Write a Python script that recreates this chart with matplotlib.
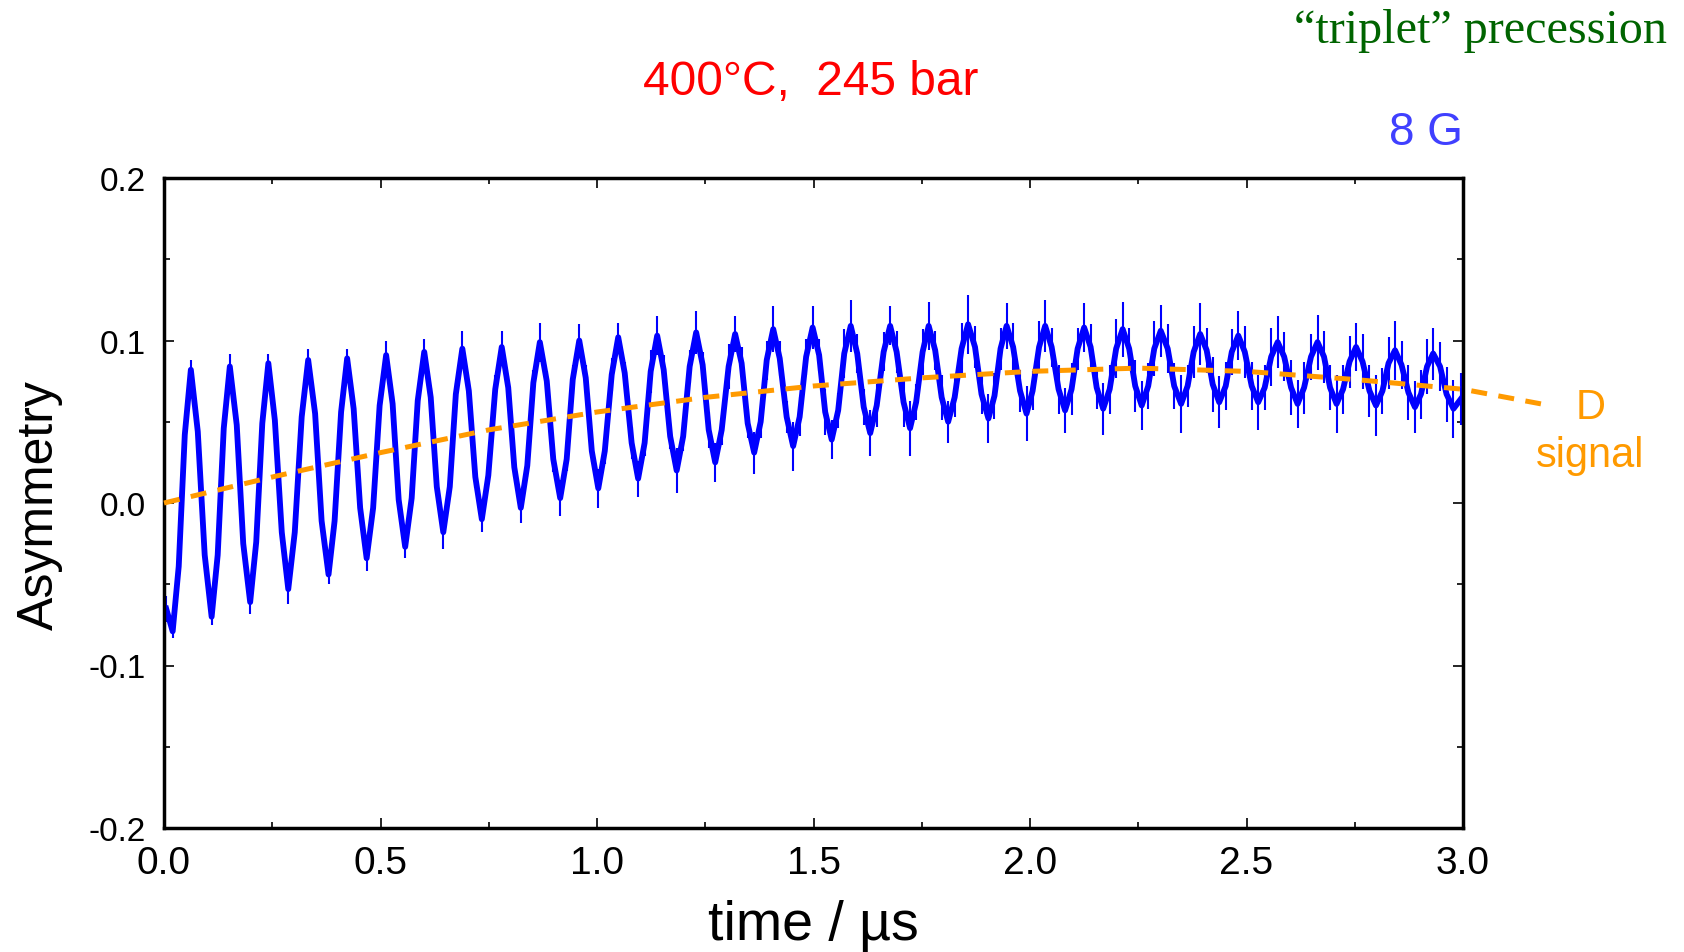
import matplotlib
matplotlib.use("Agg")
import matplotlib.pyplot as plt
from matplotlib.ticker import MultipleLocator

matplotlib.rcParams.update({
    'font.family': ['Liberation Sans', 'DejaVu Sans'],
    'axes.unicode_minus': False,
})

# muon asymmetry (peak / trough plus two points between)
time_us = [
    0.005, 0.020, 0.034, 0.048,
    0.062, 0.078, 0.094, 0.110, 0.124, 0.138,
    0.152, 0.168, 0.183, 0.199, 0.213, 0.227,
    0.241, 0.256, 0.272, 0.287, 0.302, 0.318,
    0.333, 0.349, 0.364, 0.380, 0.394, 0.409,
    0.423, 0.438, 0.453, 0.468, 0.483, 0.498,
    0.513, 0.528, 0.542, 0.557, 0.572, 0.586,
    0.601, 0.616, 0.630, 0.645, 0.660, 0.674,
    0.689, 0.704, 0.719, 0.734, 0.749, 0.765,
    0.780, 0.795, 0.809, 0.824, 0.839, 0.853,
    0.868, 0.884, 0.899, 0.915, 0.930, 0.944,
    0.959, 0.974, 0.988, 1.003, 1.018, 1.034,
    1.049, 1.064, 1.080, 1.095, 1.110, 1.124,
    1.139, 1.154, 1.169, 1.184, 1.199, 1.214,
    1.229, 1.244, 1.258, 1.273, 1.288, 1.304,
    1.319, 1.334, 1.348, 1.363, 1.378, 1.392,
    1.407, 1.422, 1.438, 1.453, 1.468, 1.483,
    1.498, 1.513, 1.527, 1.542, 1.557, 1.571,
    1.586, 1.601, 1.616, 1.631, 1.646, 1.662,
    1.677, 1.692, 1.708, 1.723, 1.737, 1.752,
    1.766, 1.781, 1.796, 1.811, 1.826, 1.842,
    1.857, 1.873, 1.888, 1.904, 1.918, 1.932,
    1.946, 1.961, 1.977, 1.992, 2.006, 2.021,
    2.035, 2.050, 2.066, 2.081, 2.096, 2.110,
    2.125, 2.140, 2.154, 2.169, 2.184, 2.199,
    2.214, 2.229, 2.243, 2.258, 2.273, 2.287,
    2.302, 2.318, 2.333, 2.349, 2.364, 2.378,
    2.393, 2.408, 2.422, 2.437, 2.452, 2.466,
    2.481, 2.496, 2.512, 2.527, 2.542, 2.557,
    2.572, 2.587, 2.603, 2.618, 2.633, 2.649,
    2.664, 2.679, 2.693, 2.708, 2.723, 2.738,
    2.753, 2.768, 2.784, 2.799, 2.814, 2.828,
    2.843, 2.858, 2.874, 2.889, 2.903, 2.917,
    2.931, 2.947, 2.962, 2.978, 2.995,
]
asym = [
    -0.065, -0.079, -0.039, 0.042,
    0.082, 0.044, -0.032, -0.070, -0.032, 0.046,
    0.084, 0.048, -0.025, -0.061, -0.024, 0.049,
    0.086, 0.051, -0.018, -0.053, -0.018, 0.053,
    0.088, 0.055, -0.011, -0.044, -0.011, 0.056,
    0.089, 0.058, -0.003, -0.034, -0.003, 0.060,
    0.091, 0.061, 0.002, -0.027, 0.003, 0.063,
    0.093, 0.065, 0.010, -0.018, 0.010, 0.067,
    0.095, 0.069, 0.016, -0.010, 0.017, 0.070,
    0.096, 0.071, 0.022, -0.003, 0.023, 0.074,
    0.099, 0.075, 0.027, 0.003, 0.027, 0.076,
    0.100, 0.077, 0.032, 0.009, 0.032, 0.079,
    0.102, 0.080, 0.037, 0.015, 0.037, 0.081,
    0.103, 0.082, 0.041, 0.020, 0.041, 0.084,
    0.105, 0.085, 0.045, 0.025, 0.045, 0.084,
    0.104, 0.086, 0.049, 0.031, 0.050, 0.088,
    0.107, 0.089, 0.053, 0.035, 0.053, 0.090,
    0.108, 0.091, 0.056, 0.039, 0.057, 0.092,
    0.109, 0.092, 0.059, 0.043, 0.060, 0.093,
    0.109, 0.093, 0.062, 0.046, 0.062, 0.093,
    0.109, 0.094, 0.065, 0.050, 0.065, 0.095,
    0.110, 0.096, 0.067, 0.052, 0.066, 0.095,
    0.109, 0.096, 0.069, 0.055, 0.069, 0.096,
    0.109, 0.096, 0.070, 0.057, 0.070, 0.095,
    0.108, 0.096, 0.071, 0.058, 0.070, 0.095,
    0.107, 0.095, 0.072, 0.060, 0.072, 0.095,
    0.106, 0.095, 0.072, 0.061, 0.072, 0.093,
    0.104, 0.094, 0.073, 0.062, 0.072, 0.093,
    0.103, 0.093, 0.072, 0.062, 0.071, 0.090,
    0.099, 0.090, 0.071, 0.061, 0.071, 0.090,
    0.099, 0.090, 0.071, 0.061, 0.070, 0.087,
    0.096, 0.087, 0.069, 0.060, 0.069, 0.086,
    0.094, 0.085, 0.068, 0.059, 0.067, 0.084,
    0.092, 0.084, 0.067, 0.058, 0.064,
]
asym_err = [
    0.008, 0.004, 0.004, 0.004,
    0.006, 0.003, 0.004, 0.005, 0.003, 0.004,
    0.008, 0.004, 0.003, 0.007, 0.004, 0.005,
    0.006, 0.004, 0.005, 0.009, 0.004, 0.004,
    0.007, 0.005, 0.004, 0.006, 0.005, 0.008,
    0.006, 0.005, 0.004, 0.008, 0.005, 0.005,
    0.009, 0.005, 0.006, 0.007, 0.005, 0.006,
    0.008, 0.006, 0.005, 0.010, 0.006, 0.007,
    0.011, 0.006, 0.007, 0.008, 0.005, 0.009,
    0.010, 0.007, 0.006, 0.009, 0.007, 0.008,
    0.012, 0.006, 0.008, 0.011, 0.007, 0.009,
    0.010, 0.008, 0.007, 0.012, 0.008, 0.010,
    0.009, 0.007, 0.010, 0.011, 0.008, 0.013,
    0.012, 0.009, 0.008, 0.014, 0.009, 0.010,
    0.013, 0.008, 0.011, 0.012, 0.009, 0.014,
    0.011, 0.010, 0.009, 0.013, 0.010, 0.012,
    0.014, 0.011, 0.010, 0.015, 0.012, 0.011,
    0.013, 0.010, 0.014, 0.012, 0.011, 0.015,
    0.016, 0.012, 0.011, 0.014, 0.013, 0.012,
    0.012, 0.013, 0.015, 0.017, 0.011, 0.014,
    0.015, 0.012, 0.014, 0.013, 0.012, 0.016,
    0.018, 0.013, 0.012, 0.015, 0.014, 0.013,
    0.014, 0.015, 0.013, 0.017, 0.012, 0.016,
    0.016, 0.012, 0.015, 0.014, 0.016, 0.013,
    0.015, 0.014, 0.013, 0.016, 0.015, 0.018,
    0.017, 0.013, 0.016, 0.015, 0.014, 0.017,
    0.016, 0.015, 0.014, 0.018, 0.013, 0.016,
    0.019, 0.014, 0.017, 0.016, 0.015, 0.014,
    0.015, 0.016, 0.015, 0.017, 0.014, 0.018,
    0.016, 0.015, 0.017, 0.015, 0.016, 0.014,
    0.017, 0.016, 0.014, 0.018, 0.015, 0.016,
    0.015, 0.017, 0.016, 0.019, 0.014, 0.016,
    0.018, 0.015, 0.017, 0.016, 0.015, 0.017,
    0.016, 0.015, 0.017, 0.018, 0.016,
]

# diamagnetic (D) signal, dashed
d_time = [0.0, 0.25, 0.5, 0.75, 1.0, 1.25, 1.5, 1.75, 2.0, 2.25, 2.5, 2.75, 3.0, 3.18]
d_asym = [0.0, 0.016, 0.031, 0.045, 0.056, 0.065, 0.072, 0.077, 0.081, 0.083, 0.081, 0.076, 0.070, 0.061]

W, H = 1684, 953
fig = plt.figure(figsize=(W / 100, H / 100), dpi=100)
ax = fig.add_axes([164 / W, 1 - 829 / H, 1299 / W, 650 / H])

ax.errorbar(time_us, asym, yerr=asym_err, fmt='none', ecolor='#0000ff', elinewidth=1.5, capsize=0)
ax.plot(time_us, asym, color='#0000ff', lw=4.2, solid_joinstyle='round')
ax.plot(d_time, d_asym, color='#ff9a00', lw=3.6, dashes=(3.2, 2.3), clip_on=False, zorder=5)

ax.set_xlim(0, 3.0)
ax.set_ylim(-0.2, 0.2)
ax.xaxis.set_major_locator(MultipleLocator(0.5))
ax.xaxis.set_minor_locator(MultipleLocator(0.25))
ax.yaxis.set_major_locator(MultipleLocator(0.1))
ax.yaxis.set_minor_locator(MultipleLocator(0.05))
ax.xaxis.set_major_formatter(matplotlib.ticker.FormatStrFormatter('%.1f'))
ax.yaxis.set_major_formatter(matplotlib.ticker.FormatStrFormatter('%.1f'))
ax.tick_params(which='both', direction='in', top=True, right=True, width=1.2)
ax.tick_params(which='major', length=7)
ax.tick_params(which='minor', length=4.5)
ax.tick_params(axis='x', labelsize=28, pad=12)
ax.tick_params(axis='y', labelsize=24, pad=13)
for s in ax.spines.values():
    s.set_linewidth(2.5)

# labels and annotations, placed in figure pixels
def ftext(x, y, s, **kw):
    fig.text(x / W, 1 - y / H, s, **kw)

ftext(813, 940, 'time / µs', ha='center', va='baseline', fontsize=40)
ftext(40, 505, 'Asymmetry', ha='center', va='center', rotation=90, fontsize=36)
ftext(811, 95, '400°C,  245 bar', ha='center', va='baseline', fontsize=34.5, color='#ff0000')
ftext(1481, 43, '\u201ctriplet\u201d precession', ha='center', va='baseline', fontsize=34.7,
      color='#006400', family=['Liberation Serif', 'DejaVu Serif'])
ftext(1463, 145, '8 G', ha='right', va='baseline', fontsize=33, color='#4040ff')
ftext(1591, 419, 'D', ha='center', va='baseline', fontsize=30, color='#ff9a00')
ftext(1590, 467, 'signal', ha='center', va='baseline', fontsize=30, color='#ff9a00')

fig.savefig('out.png', dpi=100)
